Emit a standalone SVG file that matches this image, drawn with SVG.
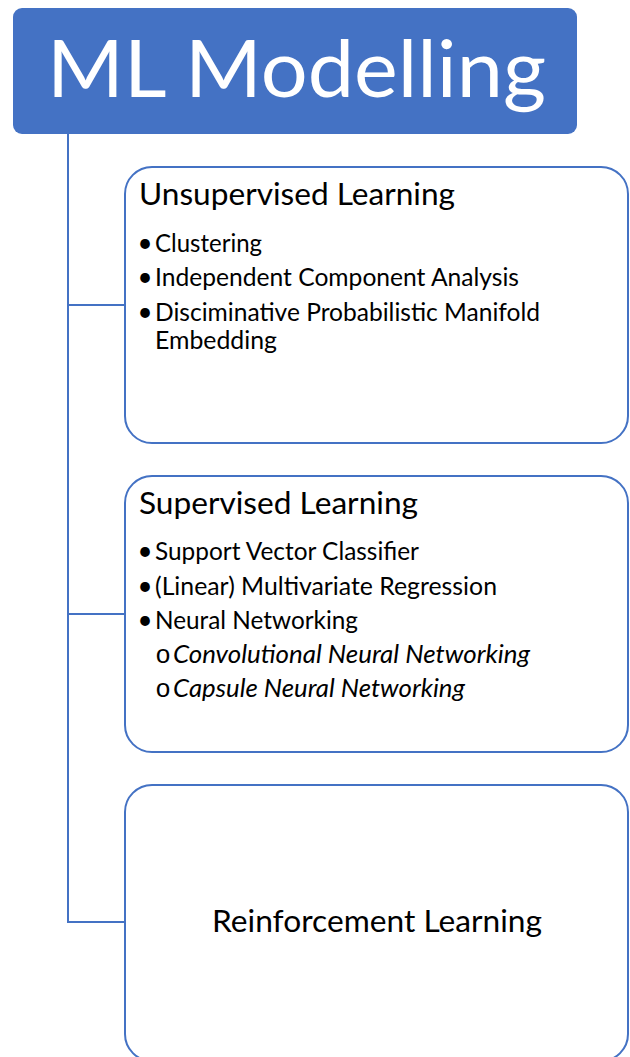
<svg xmlns="http://www.w3.org/2000/svg" width="630" height="1057" viewBox="0 0 630 1057">
<style>
.box{fill:#ffffff;stroke:#4472C4;stroke-width:2}
.conn{fill:none;stroke:#4472C4;stroke-width:2}
.t{font-family:Lato,"Open Sans",sans-serif;fill:#000000}
.h{font-size:30px}
.b{font-size:25px}
.d{font-size:26px}
.i{font-size:25px;font-style:italic}
.o{font-family:"Liberation Mono",monospace;font-size:26px;font-weight:300;fill:#000000}
</style>
<rect width="630" height="1057" fill="#ffffff"/>
<g id="connectors">
<path class="conn" d="M68,134 V922 H125 M68,305 H125 M68,614 H125"/>
</g>
<g id="root">
<rect x="13" y="8" width="564" height="126" rx="9" fill="#4472C4"/>
<text x="47" y="97" font-family="Lato,'Open Sans',sans-serif" font-size="80" fill="#ffffff" textLength="499" lengthAdjust="spacingAndGlyphs">ML Modelling</text>
</g>
<g id="unsupervised">
<rect class="box" x="125" y="167" width="503" height="276" rx="27"/>
<text class="t h" x="139" y="205" textLength="316" lengthAdjust="spacingAndGlyphs">Unsupervised Learning</text>
<text class="t d" x="145" y="252" text-anchor="middle">•</text>
<text class="t b" x="155" y="252" textLength="107" lengthAdjust="spacingAndGlyphs">Clustering</text>
<text class="t d" x="145" y="286" text-anchor="middle">•</text>
<text class="t b" x="155" y="286" textLength="364" lengthAdjust="spacingAndGlyphs">Independent Component Analysis</text>
<text class="t d" x="145" y="321" text-anchor="middle">•</text>
<text class="t b" x="155" y="321" textLength="385" lengthAdjust="spacingAndGlyphs">Disciminative Probabilistic Manifold</text>
<text class="t b" x="155" y="349" textLength="122" lengthAdjust="spacingAndGlyphs">Embedding</text>
</g>
<g id="supervised">
<rect class="box" x="125" y="476" width="503" height="276" rx="27"/>
<text class="t h" x="139" y="514" textLength="279" lengthAdjust="spacingAndGlyphs">Supervised Learning</text>
<text class="t d" x="145" y="560" text-anchor="middle">•</text>
<text class="t b" x="155" y="560" textLength="264" lengthAdjust="spacingAndGlyphs">Support Vector Classifier</text>
<text class="t d" x="145" y="595" text-anchor="middle">•</text>
<text class="t b" x="155" y="595" textLength="342" lengthAdjust="spacingAndGlyphs">(Linear) Multivariate Regression</text>
<text class="t d" x="145" y="629" text-anchor="middle">•</text>
<text class="t b" x="155" y="629" textLength="203" lengthAdjust="spacingAndGlyphs">Neural Networking</text>
<text class="o" x="163" y="663" text-anchor="middle">o</text>
<text class="t i" x="173" y="663" textLength="357" lengthAdjust="spacingAndGlyphs">Convolutional Neural Networking</text>
<text class="o" x="163" y="697" text-anchor="middle">o</text>
<text class="t i" x="173" y="697" textLength="292" lengthAdjust="spacingAndGlyphs">Capsule Neural Networking</text>
</g>
<g id="reinforcement">
<rect class="box" x="125" y="785" width="503" height="276" rx="27"/>
<text class="t h" x="212" y="932" textLength="330" lengthAdjust="spacingAndGlyphs">Reinforcement Learning</text>
</g>
</svg>
